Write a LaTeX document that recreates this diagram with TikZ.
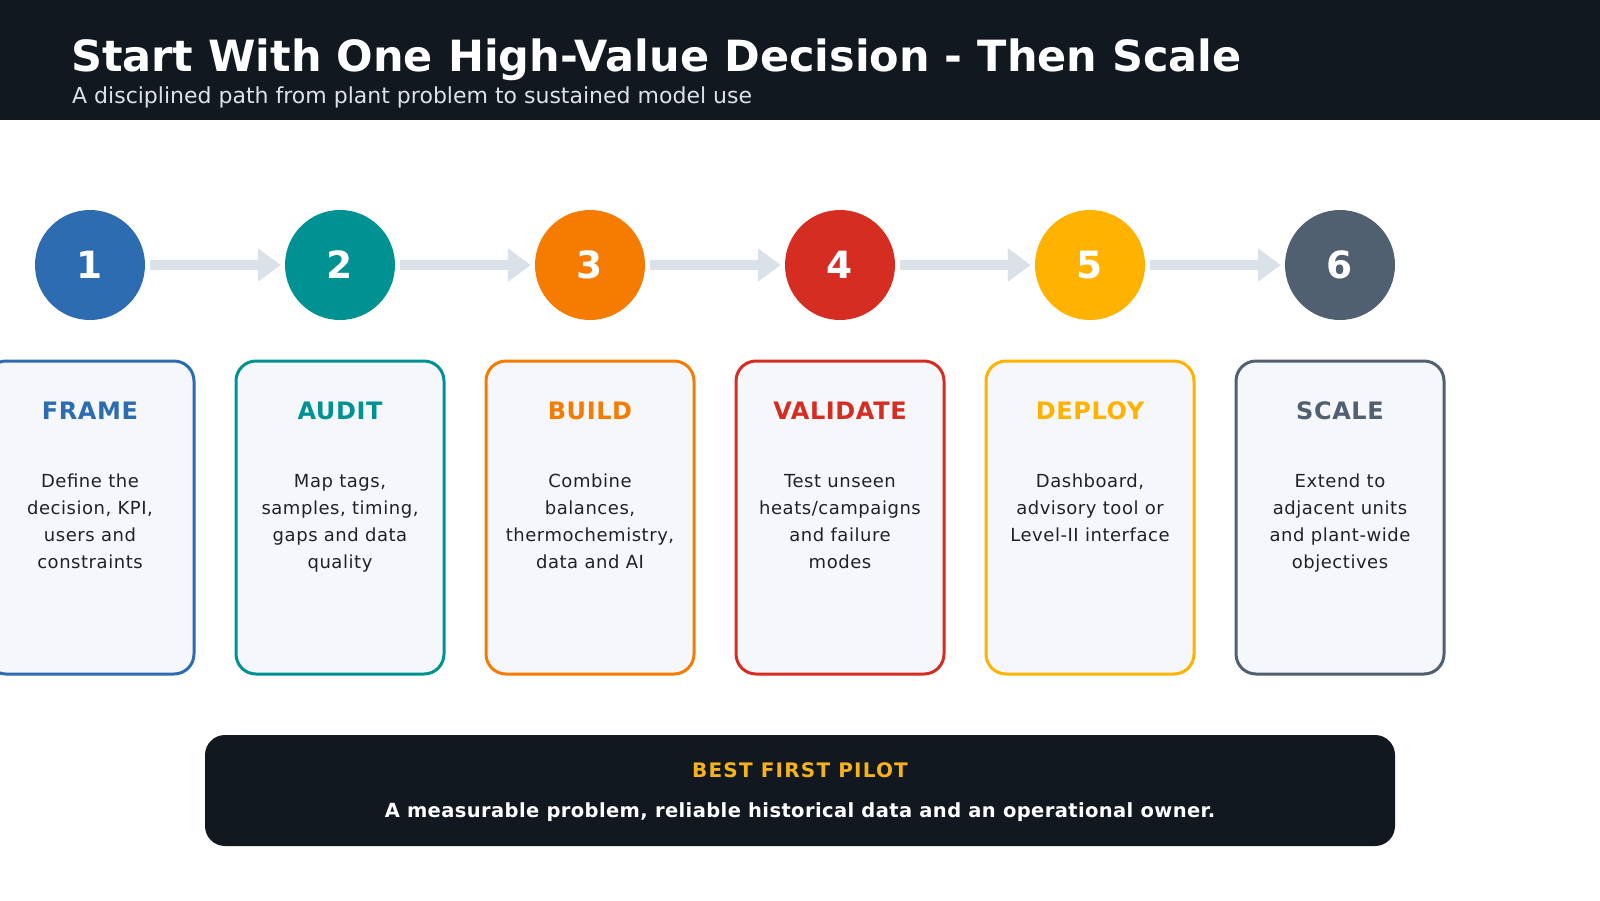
\documentclass[tikz,border=0pt]{standalone}
\usepackage{fontspec}
\setmainfont{DejaVu Sans}
\usetikzlibrary{arrows.meta}
\definecolor{hdr}{HTML}{12181F}
\definecolor{subt}{HTML}{DCE2E8}
\definecolor{cblue}{HTML}{2D6CB0}
\definecolor{cteal}{HTML}{009193}
\definecolor{corange}{HTML}{F57C00}
\definecolor{cred}{HTML}{D62D22}
\definecolor{cyellow}{HTML}{FFB300}
\definecolor{cslate}{HTML}{516070}
\definecolor{arrowc}{HTML}{DAE1E8}
\definecolor{cardfill}{HTML}{F5F7FA}
\definecolor{bodyc}{HTML}{1F2328}
\definecolor{gold}{HTML}{F6B21B}
\begin{document}
\begin{tikzpicture}[x=1pt,y=-1pt,
  stepcircle/.style={circle, minimum size=110, inner sep=0, text=white,
    font=\fontsize{37.5}{40}\selectfont\bfseries},
  stepcard/.style={rectangle, rounded corners=20, line width=3, fill=cardfill,
    minimum width=208, minimum height=313, inner sep=0},
  cardtitle/.style={anchor=base, inner sep=0, font=\fontsize{24}{28}\selectfont\bfseries\addfontfeatures{LetterSpace=2.5}},
  cardbody/.style={anchor=north, inner sep=0, align=center, text=bodyc,
    font=\fontsize{18}{27}\selectfont\addfontfeatures{LetterSpace=3}},
  flowarrow/.style={draw=arrowc, line width=10, shorten <=5pt, shorten >=4pt,
    -{Triangle[length=23pt,width=32pt,fill=arrowc]}}
]
\useasboundingbox (0,0) rectangle (1600,900);
\clip (0,0) rectangle (1600,900);
\fill[white] (0,0) rectangle (1600,900);
\node[fill=hdr, minimum width=1600, minimum height=120, anchor=north west, inner sep=0] (header) at (0,0) {};
\node[anchor=base west, inner sep=0, text=white, font=\fontsize{43}{50}\selectfont\bfseries] (title) at (71,71) {Start With One High-Value Decision - Then Scale};
\node[anchor=base west, inner sep=0, text=subt, font=\fontsize{22}{26}\selectfont] (subtitle) at (72,103) {A disciplined path from plant problem to sustained model use};

\foreach \i/\c/\ttl/\body in {
  1/cblue/FRAME/{Define the\\decision, KPI,\\users and\\constraints},
  2/cteal/AUDIT/{Map tags,\\samples, timing,\\gaps and data\\quality},
  3/corange/BUILD/{Combine\\balances,\\thermochemistry,\\data and AI},
  4/cred/VALIDATE/{Test unseen\\heats/campaigns\\and failure\\modes},
  5/cyellow/DEPLOY/{Dashboard,\\advisory tool or\\Level-II interface},
  6/cslate/SCALE/{Extend to\\adjacent units\\and plant-wide\\objectives}}{
  \node[stepcircle, fill=\c] (c\i) at ({90+250*(\i-1)},265) {\i};
  \node[stepcard, draw=\c] (k\i) at ({90+250*(\i-1)},517.5) {};
  \node[cardtitle, text=\c] (t\i) at ({90+250*(\i-1)},419) {\ttl};
  \node[cardbody] (b\i) at ({90+250*(\i-1)},468.6) {\strut\body};
}
\foreach \i [evaluate=\i as \j using int(\i+1)] in {1,...,5}
  \draw[flowarrow] (c\i) -- (c\j);

\node[fill=hdr, rounded corners=20, minimum width=1190, minimum height=111, inner sep=0] (pilot) at (800,790.5) {};
\node[anchor=base, inner sep=0, text=gold, font=\fontsize{20}{24}\selectfont\bfseries\addfontfeatures{LetterSpace=6}] (pilottitle) at (800,777) {BEST FIRST PILOT};
\node[anchor=base, inner sep=0, text=white, font=\fontsize{19.5}{23}\selectfont\bfseries\addfontfeatures{LetterSpace=2}] (pilotbody) at (800,817) {A measurable problem, reliable historical data and an operational owner.};
\end{tikzpicture}
\end{document}
